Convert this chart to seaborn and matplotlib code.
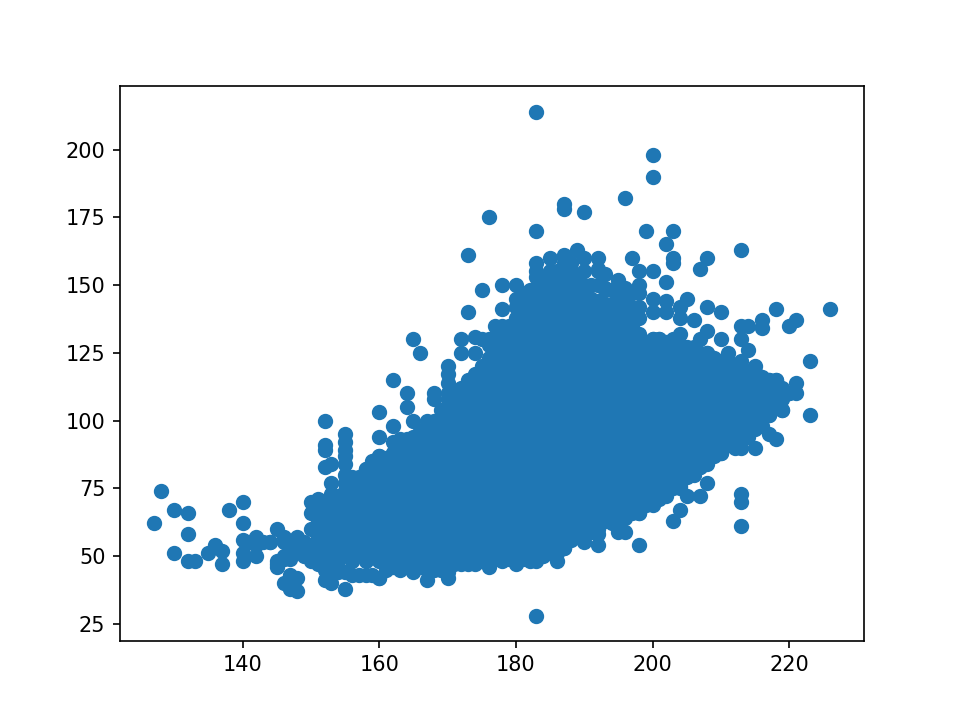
import matplotlib
matplotlib.use('Agg')
import matplotlib.pyplot as plt
import pandas as pd
import seaborn as sns

# points standing clear of the main cloud
edge_heights = [127, 128, 130, 130, 132, 132, 132, 133, 135, 136, 137, 137, 138, 140, 140, 140, 140, 140,
                141, 142, 142, 142, 144, 145, 145, 145, 146, 146, 146, 147, 147, 147, 148, 148, 148,
                152, 152, 152, 152, 153, 153, 153, 155, 155, 155, 155, 152, 153, 155,
                160, 160, 160, 162, 162, 164, 164, 165, 158, 159, 163, 165, 160,
                183, 187, 187, 190, 176, 183, 173, 175, 178, 180, 173, 178, 165, 166, 170,
                172, 172, 174, 175, 174, 177, 179, 180, 183, 183, 185, 187, 189, 190, 192, 192,
                186, 187, 188, 190, 188, 191, 182, 185, 188, 182,
                200, 200, 196, 199, 203, 202, 203, 203, 197, 198, 200, 202, 198, 208, 207, 213,
                192, 193, 195, 196, 193, 200, 202, 205, 204, 208, 210, 206, 200, 202, 204,
                218, 226, 221, 220, 216, 216, 213, 214, 213, 214, 208, 207, 210, 204, 200, 201, 203,
                208, 211, 223, 221, 221, 220, 219, 223, 218, 217, 215, 213,
                183, 167, 170, 176, 180, 183, 183, 186, 187, 190, 192, 193, 195, 196, 198, 198,
                201, 203, 204, 204, 205, 207, 208, 207, 210, 213, 215, 213, 213, 213, 217, 218, 219, 217]
edge_weights = [62, 74, 67, 51, 66, 58, 48, 48, 51, 54, 52, 47, 67, 70, 62, 56, 51, 48,
                55, 57, 54, 50, 55, 60, 48, 47, 57, 50, 40, 41, 49, 38, 37, 57, 52,
                100, 91, 89, 83, 84, 77, 40, 95, 89, 84, 38, 41, 73, 77,
                103, 94, 87, 98, 115, 110, 105, 100, 82, 85, 45, 44, 42,
                214, 180, 178, 177, 175, 170, 161, 148, 150, 150, 140, 141, 130, 125, 120,
                130, 125, 131, 130, 125, 135, 135, 145, 158, 153, 160, 161, 163, 160, 160, 155,
                152, 155, 155, 150, 150, 145, 148, 146, 145, 138,
                198, 190, 182, 170, 170, 165, 160, 158, 160, 155, 155, 151, 150, 160, 156, 163,
                156, 154, 152, 149, 149, 145, 144, 145, 142, 142, 140, 137, 140, 140, 138,
                141, 141, 137, 135, 137, 134, 135, 135, 130, 126, 133, 130, 130, 132, 130, 130, 130,
                125, 125, 122, 114, 110, 110, 104, 102, 115, 115, 120, 122,
                28, 41, 42, 46, 47, 48, 50, 48, 53, 55, 54, 63, 59, 59, 54, 66,
                72, 63, 67, 75, 72, 72, 77, 83, 88, 90, 90, 73, 70, 61, 95, 93, 104, 102]

# rough spots along the rim of the cloud
rim_heights = [143, 144, 146, 147, 148, 149, 149, 149, 147, 146, 145, 147, 148,
               155, 155, 155, 156, 162, 163, 164, 165, 162, 166, 168, 168, 170, 170, 170, 174, 172,
               167, 176, 177, 178, 179, 180, 181, 182, 180, 178, 176, 181, 182, 181, 183, 184, 184,
               185, 186, 183, 184, 185, 186, 187, 188, 187, 188, 189, 190, 191, 192, 193, 194, 195,
               195, 196, 196, 197, 198]
rim_weights = [55, 55, 55, 54, 54, 55, 50, 52, 51, 49, 46, 43, 42,
               92, 87, 80, 79, 92, 93, 93, 93, 88, 90, 110, 108, 117, 114, 110, 115, 108,
               100, 128, 130, 132, 134, 138, 140, 143, 142, 135, 130, 147, 146, 143, 148, 148, 152,
               150, 150, 155, 150, 155, 155, 152, 152, 158, 158, 153, 155, 150, 150, 148, 148, 145,
               150, 146, 147, 147, 147]

# main cloud, weights seen at each height
body_heights = list(range(150, 221))
body_weights = [
    [48, 54, 60, 66, 70],
    [47, 51, 57, 63, 69, 71],
    [45, 48, 54, 60, 66, 70],
    [45, 51, 57, 63, 69, 72],
    [44, 48, 54, 60, 66, 72],
    [44, 51, 57, 63, 69, 74],
    [43, 48, 54, 60, 66, 72, 76],
    [43, 51, 57, 63, 69, 75, 79],
    [43, 48, 54, 60, 66, 72, 78, 82],
    [43, 51, 57, 63, 69, 75, 81, 84],
    [42, 48, 54, 60, 66, 72, 78, 84, 87],
    [45, 51, 57, 63, 69, 75, 81, 86],
    [46, 48, 54, 60, 66, 72, 78, 84, 88],
    [46, 51, 57, 63, 69, 75, 81, 87, 90],
    [46, 48, 54, 60, 66, 72, 78, 84, 90, 92],
    [46, 51, 57, 63, 69, 75, 81, 87, 93, 94],
    [46, 48, 54, 60, 66, 72, 78, 84, 90, 96],
    [45, 51, 57, 63, 69, 75, 81, 87, 93, 98],
    [45, 48, 54, 60, 66, 72, 78, 84, 90, 96, 100],
    [45, 51, 57, 63, 69, 75, 81, 87, 93, 99, 104],
    [44, 48, 54, 60, 66, 72, 78, 84, 90, 96, 102, 108],
    [47, 51, 57, 63, 69, 75, 81, 87, 93, 99, 105, 110],
    [47, 48, 54, 60, 66, 72, 78, 84, 90, 96, 102, 108, 112],
    [47, 51, 57, 63, 69, 75, 81, 87, 93, 99, 105, 111, 115],
    [47, 48, 54, 60, 66, 72, 78, 84, 90, 96, 102, 108, 114, 117],
    [48, 51, 57, 63, 69, 75, 81, 87, 93, 99, 105, 111, 117, 120],
    [47, 48, 54, 60, 66, 72, 78, 84, 90, 96, 102, 108, 114, 120, 123],
    [49, 51, 57, 63, 69, 75, 81, 87, 93, 99, 105, 111, 117, 123, 125],
    [48, 54, 60, 66, 72, 78, 84, 90, 96, 102, 108, 114, 120, 126, 128],
    [49, 51, 57, 63, 69, 75, 81, 87, 93, 99, 105, 111, 117, 123, 129, 130],
    [48, 54, 60, 66, 72, 78, 84, 90, 96, 102, 108, 114, 120, 126, 132, 134],
    [49, 51, 57, 63, 69, 75, 81, 87, 93, 99, 105, 111, 117, 123, 129, 135, 137],
    [48, 54, 60, 66, 72, 78, 84, 90, 96, 102, 108, 114, 120, 126, 132, 138, 140],
    [49, 51, 57, 63, 69, 75, 81, 87, 93, 99, 105, 111, 117, 123, 129, 135, 141, 143],
    [50, 54, 60, 66, 72, 78, 84, 90, 96, 102, 108, 114, 120, 126, 132, 138, 144, 145],
    [51, 57, 63, 69, 75, 81, 87, 93, 99, 105, 111, 117, 123, 129, 135, 141, 146],
    [51, 54, 60, 66, 72, 78, 84, 90, 96, 102, 108, 114, 120, 126, 132, 138, 144, 148],
    [53, 57, 63, 69, 75, 81, 87, 93, 99, 105, 111, 117, 123, 129, 135, 141, 147, 148],
    [56, 60, 66, 72, 78, 84, 90, 96, 102, 108, 114, 120, 126, 132, 138, 144, 148],
    [57, 63, 69, 75, 81, 87, 93, 99, 105, 111, 117, 123, 129, 135, 141, 147],
    [57, 60, 66, 72, 78, 84, 90, 96, 102, 108, 114, 120, 126, 132, 138, 144, 146],
    [59, 63, 69, 75, 81, 87, 93, 99, 105, 111, 117, 123, 129, 135, 141, 145],
    [58, 60, 66, 72, 78, 84, 90, 96, 102, 108, 114, 120, 126, 132, 138, 144],
    [63, 69, 75, 81, 87, 93, 99, 105, 111, 117, 123, 129, 135, 141, 143],
    [62, 66, 72, 78, 84, 90, 96, 102, 108, 114, 120, 126, 132, 138, 143],
    [63, 69, 75, 81, 87, 93, 99, 105, 111, 117, 123, 129, 135, 141, 142],
    [64, 66, 72, 78, 84, 90, 96, 102, 108, 114, 120, 126, 132, 138, 142],
    [66, 69, 75, 81, 87, 93, 99, 105, 111, 117, 123, 129, 135, 141, 142],
    [66, 72, 78, 84, 90, 96, 102, 108, 114, 120, 126, 132, 138, 142],
    [69, 75, 81, 87, 93, 99, 105, 111, 117, 123, 129],
    [69, 72, 78, 84, 90, 96, 102, 108, 114, 120, 126, 130],
    [71, 75, 81, 87, 93, 99, 105, 111, 117, 123, 129, 130],
    [72, 78, 84, 90, 96, 102, 108, 114, 120, 126, 129],
    [75, 81, 87, 93, 99, 105, 111, 117, 123, 128],
    [76, 78, 84, 90, 96, 102, 108, 114, 120, 126, 128],
    [79, 81, 87, 93, 99, 105, 111, 117, 123, 127],
    [80, 84, 90, 96, 102, 108, 114, 120, 126, 127],
    [83, 87, 93, 99, 105, 111, 117, 123, 125],
    [84, 90, 96, 102, 108, 114, 120, 125],
    [87, 93, 99, 105, 111, 117, 123],
    [88, 90, 96, 102, 108, 114, 120, 122],
    [91, 93, 99, 105, 111, 117, 122],
    [90, 96, 102, 108, 114, 120],
    [93, 99, 105, 111, 117, 120],
    [94, 96, 102, 108, 114, 118],
    [97, 99, 105, 111, 117, 118],
    [98, 102, 108, 114, 116],
    [102, 105, 111, 115],
    [105, 108, 114, 115],
    [108, 111, 112],
    [110],
]

df = pd.DataFrame({'Height': body_heights, 'Weight': body_weights}).explode('Weight')
df = pd.concat([df,
                pd.DataFrame({'Height': edge_heights, 'Weight': edge_weights}),
                pd.DataFrame({'Height': rim_heights, 'Weight': rim_weights})])
df['Weight'] = df['Weight'].astype(int)

fig, ax = plt.subplots(figsize=(6.4, 4.8), dpi=150)
sns.scatterplot(data=df, x='Height', y='Weight', color='#1f77b4', s=36,
                edgecolor='#1f77b4', linewidth=1.35, alpha=1, ax=ax)
ax.set_xlabel('')
ax.set_ylabel('')
plt.savefig('out.png')
